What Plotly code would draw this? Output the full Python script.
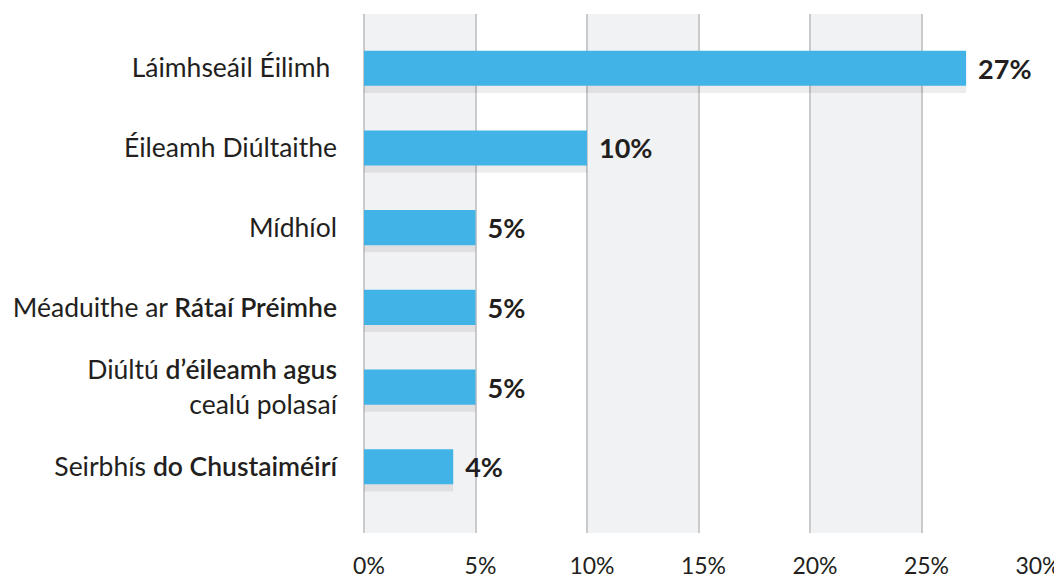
import plotly.graph_objects as go

# data
categories = [
    "Láimhseáil Éilimh\u00a0",
    "Éileamh Diúltaithe",
    "Mídhíol",
    "Méaduithe ar <span style='font-weight:600'>Rátaí Préimhe</span>",
    "Diúltú <span style='font-weight:600'>d’éileamh agus</span><br>cealú polasaí",
    "Seirbhís <span style='font-weight:600'>do Chustaiméirí</span>",
]
values = [27, 10, 5, 5, 5, 4]
x_ticks = [0, 5, 10, 15, 20, 25, 30]
x_tick_labels = ["0%", "5%", "10%", "15%", "20%", "25%", "30%"]
shaded_bands = [(0, 5), (10, 15), (20, 25)]

bar_color = "#41B3E6"
text_color = "#231F20"
grid_color = "#C9CACC"
band_color = "#F1F2F4"
font_family = "Lato, 'Open Sans', sans-serif"

bar_w = 0.44
value_text = ["\u2004" + str(v) + "%" for v in values]

fig = go.Figure()

# soft shadow under each bar
fig.add_trace(go.Bar(
    y=categories,
    x=values,
    orientation="h",
    width=bar_w,
    offset=-bar_w / 2 + 0.09,
    marker=dict(color="rgba(0,0,0,0.07)", line=dict(width=0)),
    hoverinfo="skip",
    showlegend=False,
))

fig.add_trace(go.Bar(
    y=categories,
    x=values,
    orientation="h",
    width=bar_w,
    offset=-bar_w / 2,
    marker=dict(color=bar_color, line=dict(width=0)),
    text=value_text,
    texttemplate="%{text}",
    textposition="outside",
    textfont=dict(family=font_family, size=27, color=text_color, weight="bold"),
    cliponaxis=False,
    showlegend=False,
))

# alternating grey columns
for x0, x1 in shaded_bands:
    fig.add_shape(type="rect", xref="x", yref="paper", x0=x0, x1=x1, y0=0, y1=1,
                  fillcolor=band_color, line=dict(width=0), layer="below")

# page body adds 8px around the figure, so margins are shifted to compensate
fig.update_layout(
    barmode="overlay",
    width=1062,
    height=577,
    plot_bgcolor="white",
    paper_bgcolor="white",
    font=dict(family=font_family, color=text_color),
    margin=dict(l=356, r=37, t=6, b=52, autoexpand=False),
    xaxis=dict(
        range=[0, 30],
        tickvals=x_ticks,
        ticktext=x_tick_labels,
        showgrid=True,
        gridcolor=grid_color,
        gridwidth=2,
        zeroline=True,
        zerolinecolor=grid_color,
        zerolinewidth=2,
        showline=False,
        ticks="",
        automargin=False,
        ticklabelstandoff=17,
        ticklabelshift=5,
        tickfont=dict(size=23, color=text_color),
    ),
    yaxis=dict(
        type="category",
        range=[5.83, -0.68],
        showgrid=False,
        zeroline=False,
        showline=False,
        ticks="",
        automargin=False,
        ticklabelstandoff=26,
        tickfont=dict(size=26.5, color=text_color),
    ),
)

fig.write_html("out.html")
